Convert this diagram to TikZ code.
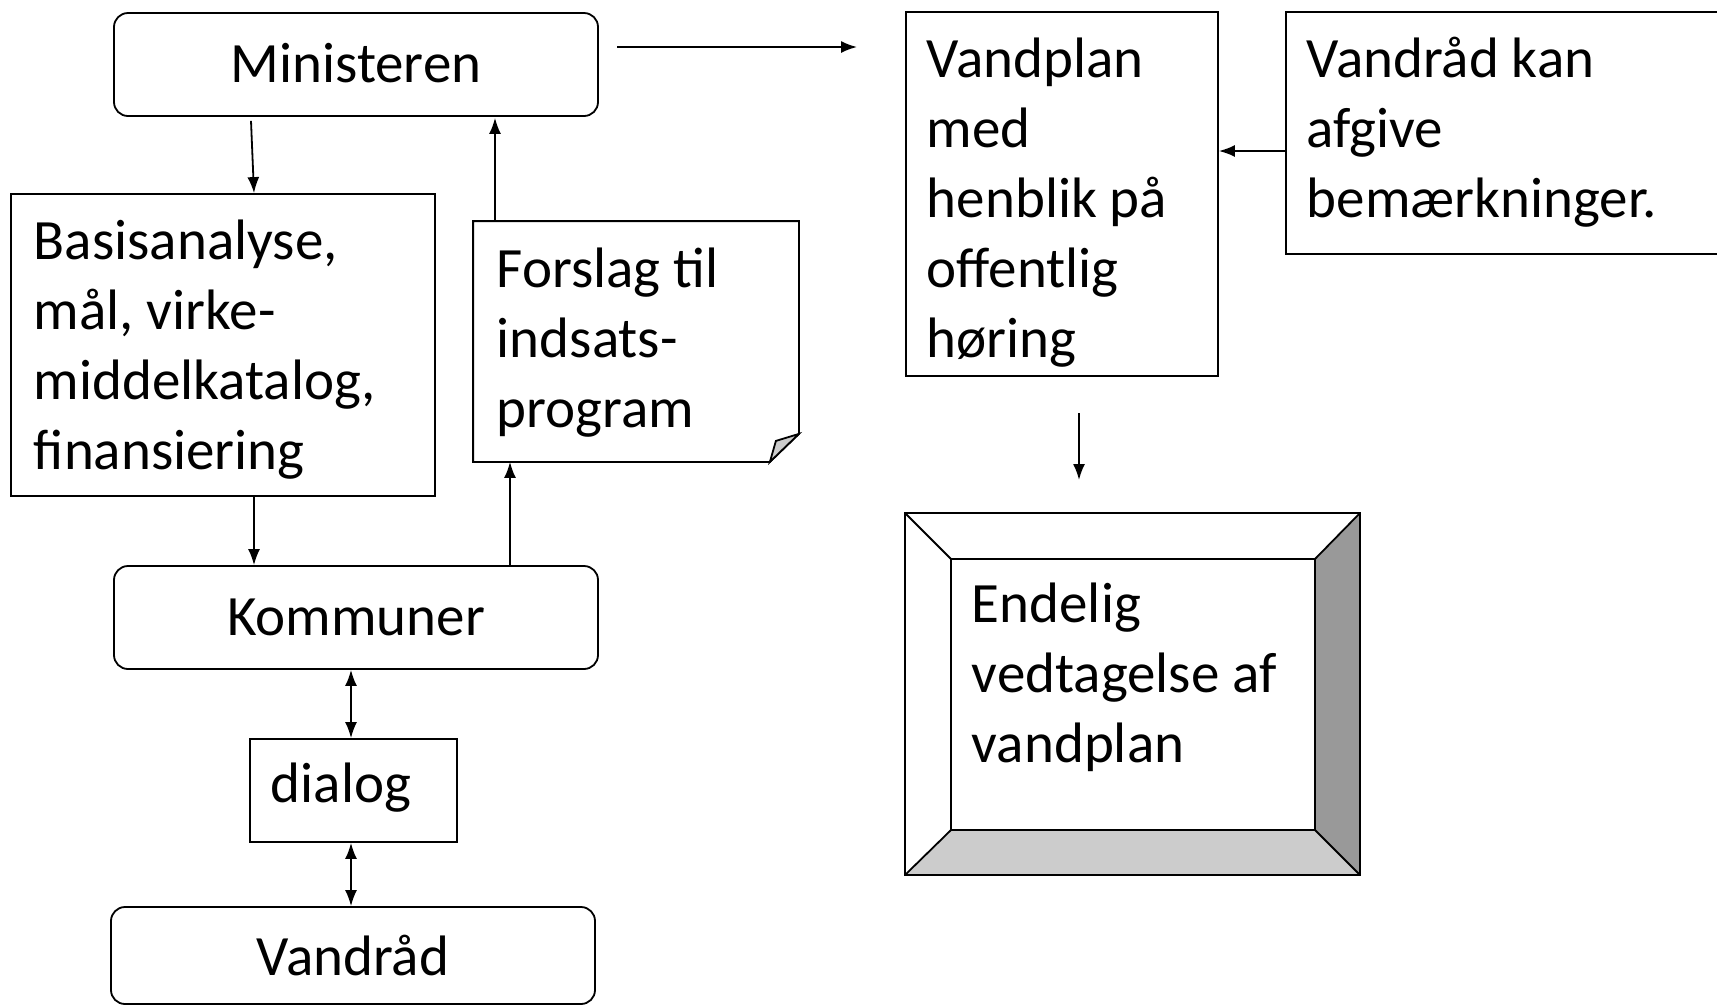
\documentclass[tikz,border=0pt]{standalone}
\usepackage{fontspec}
\setmainfont{Carlito}
\usetikzlibrary{arrows.meta}
\definecolor{lightbevel}{HTML}{CCCCCC}
\definecolor{darkbevel}{HTML}{999999}
\begin{document}
\begin{tikzpicture}[x=1pt,y=-1pt,
  line width=1.8pt,
  box/.style={draw, line width=1.8pt, inner sep=0pt, rectangle},
  rbox/.style={box, rounded corners=14pt},
  txt/.style={inner sep=0pt, anchor=base west, align=left, font=\fontsize{57}{70}\selectfont},
  ctxt/.style={inner sep=0pt, anchor=base, font=\fontsize{57}{70}\selectfont},
  arr/.style={-{Latex[length=16pt,width=12pt]}, line width=1.8pt},
  darr/.style={{Latex[length=16pt,width=12pt]}-{Latex[length=16pt,width=12pt]}, line width=1.8pt}]
\useasboundingbox (0,0) rectangle (1717,1005);
\clip (0,0) rectangle (1717,1005);

% boxes
\node[rbox, minimum width=484pt, minimum height=103pt] (min) at (356,64.5) {};
\node[box, minimum width=424pt, minimum height=302pt] (bas) at (223,345) {};
\node[inner sep=0pt, minimum width=324pt, minimum height=239pt] (fors) at (636,341.5) {};
\draw (fors.north west) -- (fors.north east) -- ([yshift=28pt]fors.south east) -- ([xshift=-29pt]fors.south east) -- (fors.south west) -- cycle;
\filldraw[fill=lightbevel] ([yshift=28pt]fors.south east) -- ([xshift=-23pt,yshift=21pt]fors.south east) -- ([xshift=-29pt]fors.south east) -- cycle;
\node[rbox, minimum width=484pt, minimum height=103pt] (kom) at (356,617.5) {};
\node[box, minimum width=207pt, minimum height=103pt] (dia) at (353.5,790.5) {};
\node[rbox, minimum width=484pt, minimum height=97pt] (vr) at (353,955.5) {};
\node[box, minimum width=312pt, minimum height=364pt] (vp) at (1062,194) {};
\node[box, minimum width=454pt, minimum height=242pt] (vk) at (1513,133) {};

% bevel box
\node[inner sep=0pt, minimum width=453pt, minimum height=360pt] (end) at (1132.5,694) {};
\node[inner sep=0pt, minimum width=362pt, minimum height=269pt] (endi) at (1133,694.5) {};
\fill[darkbevel] (end.north east) -- (end.south east) -- (endi.south east) -- (endi.north east) -- cycle;
\fill[lightbevel] (end.south west) -- (end.south east) -- (endi.south east) -- (endi.south west) -- cycle;
\draw (end.north west) -- (endi.north west);
\draw (end.north east) -- (endi.north east);
\draw (end.south west) -- (endi.south west);
\draw (end.south east) -- (endi.south east);
\draw (end.north west) rectangle (end.south east);
\draw (endi.north west) rectangle (endi.south east);

% texts (base anchor = baseline of last line)
\node[ctxt] (tmin) at (356,82) {Ministeren};
\node[txt] (tbas) at (33,469) {Basisanalyse,\\mål, virke-\\middelkatalog,\\finansiering};
\node[txt] (tfor) at (496,427) {Forslag til\\indsats-\\program};
\node[ctxt] (tkom) at (356,635) {Kommuner};
\node[txt] (tdia) at (270,802) {dialog};
\node[ctxt] (tvr) at (353,975) {Vandråd};
\node[txt] (tvp) at (926,357) {Vandplan\\med\\henblik på\\offentlig\\høring};
\node[txt] (tvk) at (1306,217) {Vandråd kan\\afgive\\bemærkninger.};
\node[txt] (tend) at (971,762) {Endelig\\vedtagelse af\\vandplan};

% connectors
\coordinate (a1) at (617,47);
\coordinate (a2) at (857,47);
\draw[arr] (a1) -- (a2);
\draw[arr] ([xshift=-105pt,yshift=-4pt]min.south) -- ([xshift=31pt]bas.north);
\draw[arr] ([xshift=-141pt]fors.north) -- ([xshift=139pt,yshift=-1pt]min.south);
\draw[arr] ([xshift=31pt]bas.south) -- ([xshift=-102pt]kom.north);
\draw[arr] ([xshift=154pt]kom.north) -- ([xshift=-126pt]fors.south);
\draw[darr] ([xshift=-5pt]kom.south) -- ([xshift=-2.5pt]dia.north);
\draw[darr] ([xshift=-2.5pt]dia.south) -- ([xshift=-2pt]vr.north);
\draw[arr] ([yshift=-18pt]vk.west) -- ([yshift=43pt]vp.east);
\coordinate (d1) at (1079,413);
\coordinate (d2) at (1079,480);
\draw[arr] (d1) -- (d2);
\end{tikzpicture}
\end{document}
